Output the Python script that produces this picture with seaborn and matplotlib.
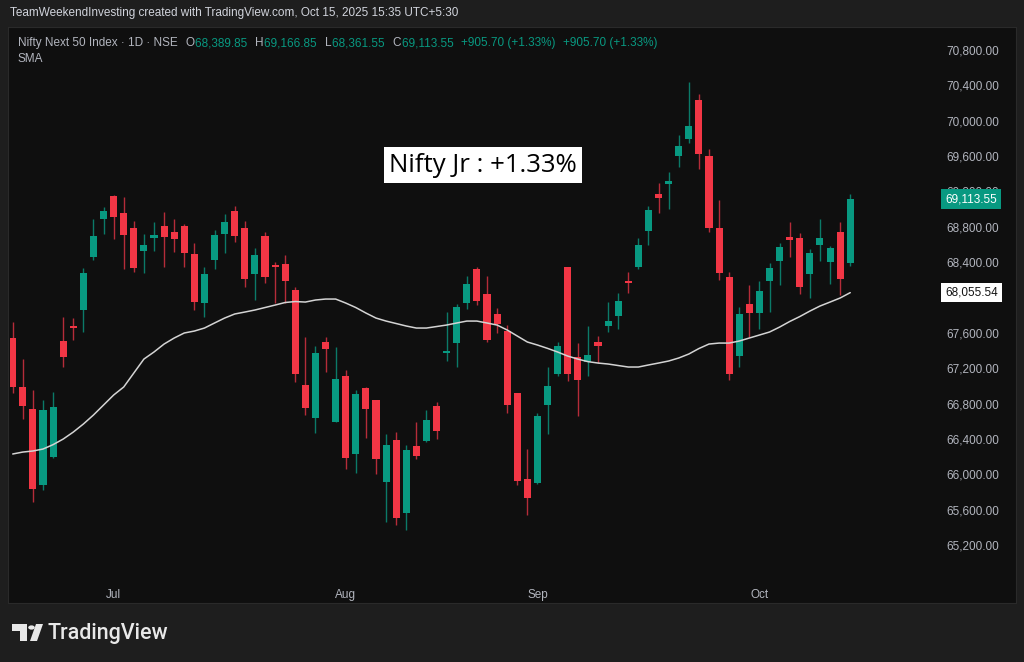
import numpy as np
import pandas as pd
import seaborn as sns
import matplotlib.pyplot as plt
from matplotlib.patches import Polygon, Circle
from matplotlib.transforms import blended_transform_factory

# daily OHLC of Nifty Next 50, 17 Jun - 15 Oct 2025
opens = [67542, 66988, 66739, 65879, 66196, 67508, 67678, 67859, 68458, 68888,
         69149, 68956, 68787, 68526, 68673, 68809, 68741, 68809, 68492, 67938,
         68424, 68719, 68979, 68787, 68266, 68696, 68368, 68379, 68085, 67010,
         66637, 67497, 66592, 67112, 66230, 66976, 66840, 65913, 66388, 65562,
         66320, 66377, 66773, 67372, 67485, 67938, 68323, 68040, 67814, 67621,
         66915, 65947, 65901, 66784, 67135, 68340, 67327, 67270, 67497, 67678,
         67791, 68187, 68345, 68753, 69171, 69284, 69601, 69793, 70235, 69601,
         68787, 68232, 67338, 67927, 67825, 68187, 68413, 68685, 68673, 68266,
         68594, 68402, 68741, 68389.85]
highs = [67723, 67304, 66954, 66841, 66931, 67780, 67768, 68334, 68888, 69024,
         69160, 69137, 68866, 68719, 68854, 68968, 68888, 68832, 68617, 68345,
         68764, 68945, 69035, 68866, 68560, 68741, 68402, 68481, 68119, 67553,
         67451, 67553, 67440, 67180, 66954, 66988, 66841, 66456, 66478, 66331,
         66592, 66727, 66818, 67836, 67927, 68243, 68345, 68243, 67881, 67689,
         66920, 66286, 66693, 67214, 67497, 68345, 67485, 67678, 67565, 67949,
         68051, 68289, 68673, 69035, 69296, 69420, 69839, 70438, 70303, 69680,
         69103, 68289, 67893, 68142, 68187, 68391, 68617, 68854, 68730, 68549,
         68888, 68583, 68854, 69166.85]
lows = [66920, 66626, 65687, 65822, 66190, 67214, 67519, 67610, 68424, 68719,
        68662, 68323, 68289, 68277, 68526, 68345, 68515, 68345, 67859, 67780,
        68323, 68504, 68628, 68119, 67972, 68164, 67938, 67938, 67044, 66671,
        66467, 67157, 66590, 66060, 66015, 66411, 66003, 65460, 65426, 65370,
        66173, 66370, 66399, 67282, 67214, 67870, 67915, 67497, 67599, 66693,
        65879, 65539, 65895, 66456, 67112, 67055, 66660, 67112, 67259, 67610,
        67644, 68051, 68323, 68594, 68956, 69002, 69477, 69748, 69454, 68741,
        68198, 67067, 67214, 67553, 67644, 67836, 68142, 68458, 68040, 67995,
        68413, 68153, 68029, 68361.55]
closes = [66988, 66773, 65834, 66727, 66761, 67327, 67655, 68277, 68696, 68979,
          68911, 68707, 68334, 68594, 68707, 68685, 68662, 68504, 67949, 68266,
          68707, 68854, 68696, 68210, 68481, 68232, 68345, 68187, 67135, 66750,
          67372, 67418, 67078, 66184, 66908, 66739, 66173, 66331, 65505, 66275,
          66207, 66614, 66490, 67395, 67893, 68153, 67961, 67519, 67700, 66784,
          65924, 65732, 66660, 66999, 67451, 67135, 67067, 67350, 67451, 67734,
          67961, 68164, 68594, 68990, 69126, 69318, 69714, 69941, 69624, 68787,
          68277, 67135, 67814, 67825, 68074, 68334, 68572, 68651, 68119, 68504,
          68673, 68560, 68207.85, 69113.55]
sma = [66230, 66252, 66264, 66286, 66336, 66399, 66478, 66569, 66671, 66784,
       66897, 66988, 67146, 67304, 67384, 67474, 67542, 67599, 67621, 67655,
       67712, 67768, 67814, 67836, 67859, 67887, 67915, 67944, 67955, 67949,
       67972, 67983, 67983, 67938, 67887, 67825, 67768, 67734, 67706, 67678,
       67655, 67655, 67672, 67689, 67712, 67734, 67734, 67712, 67689, 67633,
       67565, 67497, 67463, 67425, 67384, 67338, 67304, 67275, 67259, 67248,
       67231, 67214, 67214, 67237, 67259, 67282, 67316, 67361, 67423, 67474,
       67485, 67485, 67508, 67542, 67576, 67610, 67666, 67729, 67785, 67847,
       67904, 67949, 67995, 68055.54]
holidays = ['2025-08-15', '2025-08-27', '2025-10-02']
price_ticks = list(range(65200, 70801, 400))
month_labels = ['Jul', 'Aug', 'Sep', 'Oct']

dates = pd.bdate_range('2025-06-17', '2025-10-15')
dates = dates[~dates.isin(pd.to_datetime(holidays))]

df = pd.DataFrame({'date': dates, 'open': opens, 'high': highs,
                   'low': lows, 'close': closes, 'sma': sma})
df['i'] = np.arange(len(df))
df['up'] = df['close'] >= df['open']

GREEN = '#089981'
RED = '#f23645'
TXT = '#b2b5be'
FS = 8.5

sns.set_style('dark')
plt.rcParams['font.family'] = ['Liberation Sans', 'DejaVu Sans']

W, H = 1024, 662
fig = plt.figure(figsize=(W / 100, H / 100), dpi=100, facecolor='#1e1e1e')


def px(x, y):
    return (x / W, 1 - y / H)


# chart panel
panel = fig.add_axes([8 / W, 1 - 603 / H, 1008 / W, 576 / H])
panel.set_facecolor('#0f0f0f')
panel.set_xticks([])
panel.set_yticks([])
for s in panel.spines.values():
    s.set_color('#2a2a2a')

ax = fig.add_axes([10 / W, 1 - 575 / H, 925 / W, 545 / H])
ax.set_facecolor('none')
ax.set_xlim(-0.27, 91.4)
ax.set_ylim(64861, 71027)

wick_cols = np.where(df['up'], '#0b7a68', '#b52c39')
body_cols = np.where(df['up'], GREEN, RED)
ax.vlines(df['i'], df['low'], df['high'], colors=wick_cols, linewidth=1, zorder=2)
bottoms = df[['open', 'close']].min(axis=1)
heights = (df['close'] - df['open']).abs().clip(lower=12)
ax.bar(df['i'], heights, bottom=bottoms, width=0.7, color=body_cols,
       linewidth=0, zorder=3)

sns.lineplot(x='i', y='sma', data=df, ax=ax, color='#d4d4d4', linewidth=1.1,
             zorder=4)

# axes styling
for s in ax.spines.values():
    s.set_visible(False)
ax.grid(False)
ax.yaxis.tick_right()
ax.set_yticks(price_ticks)
# 68,000 sits under the SMA tag in the original
ax.set_yticklabels(['' if v == 68000 else f'{v:,.2f}' for v in price_ticks])
month_pos = [df.index[df['date'].dt.month == m][0] for m in [7, 8, 9, 10]]
ax.set_xticks(month_pos)
ax.set_xticklabels(month_labels)
ax.tick_params(axis='y', length=0, pad=8, labelcolor=TXT, labelsize=FS)
ax.tick_params(axis='x', length=0, pad=10, labelcolor=TXT, labelsize=FS)
ax.set_xlabel('')
ax.set_ylabel('')

# last price and sma tags on the price scale
tr = blended_transform_factory(ax.transAxes, ax.transData)
ax.text(1 + 10 / 925, closes[-1], f'{closes[-1]:,.2f}', transform=tr,
        ha='left', va='center', color='white', fontsize=FS, zorder=6,
        bbox=dict(boxstyle='square,pad=0.32', fc=GREEN, ec='none'))
ax.text(1 + 10 / 925, sma[-1], f'{sma[-1]:,.2f}', transform=tr,
        ha='left', va='center', color='#131313', fontsize=FS, zorder=6,
        bbox=dict(boxstyle='square,pad=0.32', fc='white', ec='none'))

# header
fig.text(*px(10, 13), 'TeamWeekendInvesting created with TradingView.com, Oct 15, 2025 15:35 UTC+5:30',
         color='#d1d4dc', fontsize=FS, va='center', ha='left')

# legend row built from consecutive pieces
pieces = [('Nifty Next 50 Index · 1D · NSE  ', TXT),
          ('O', TXT), ('68,389.85  ', GREEN),
          ('H', TXT), ('69,166.85  ', GREEN),
          ('L', TXT), ('68,361.55  ', GREEN),
          ('C', TXT), ('69,113.55  ', GREEN),
          ('+905.70 (+1.33%)  ', GREEN), ('+905.70 (+1.33%)', GREEN)]
legend_texts = [fig.text(0, 0, t, color=c, fontsize=FS, va='center', ha='left')
                for t, c in pieces]
fig.canvas.draw()
renderer = fig.canvas.get_renderer()
x0 = 18
for txt in legend_texts:
    txt.set_position(px(x0, 43))
    x0 += txt.get_window_extent(renderer).width + 1
fig.text(*px(18, 59), 'SMA', color=TXT, fontsize=FS, va='center', ha='left')

# annotation box
fig.text(*px(483, 165), 'Nifty Jr : +1.33%', color='black', fontsize=18.5,
         family='Open Sans', ha='center', va='center',
         bbox=dict(boxstyle='square,pad=0.2', fc='white', ec='none'))

# TradingView logo
fig.add_artist(Polygon([px(12, 624), px(27, 624), px(27, 641), px(20, 641),
                        px(20, 631), px(12, 631)], closed=True,
                       transform=fig.transFigure, fc='#e8e8e8', ec='none'))
fig.add_artist(Circle(px(31.5, 627.5), 3.3 / W, transform=fig.transFigure,
                      fc='#e8e8e8', ec='none'))
fig.add_artist(Polygon([px(36, 624), px(43, 624), px(37, 641), px(30, 641)],
                       closed=True, transform=fig.transFigure, fc='#e8e8e8',
                       ec='none'))
fig.text(*px(48, 633), 'TradingView', color='#e8e8e8', fontsize=15.5,
         family='Roboto', fontweight='medium', va='center', ha='left')

plt.savefig('out.png', dpi=100, facecolor=fig.get_facecolor())
